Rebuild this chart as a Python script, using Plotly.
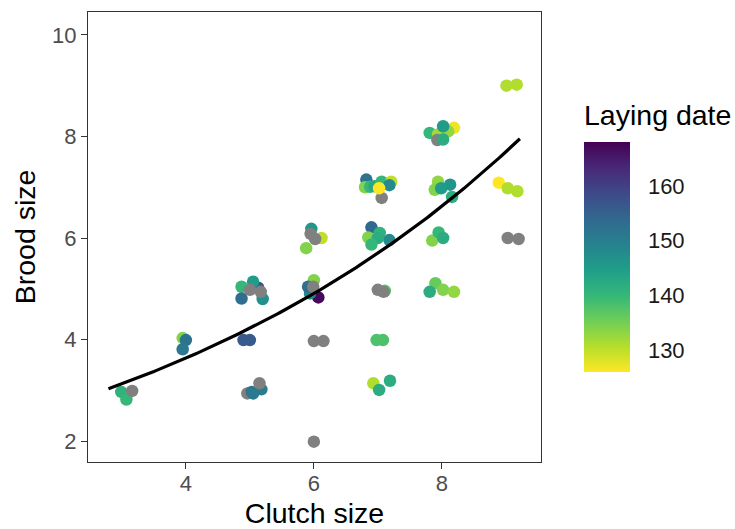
import plotly.graph_objects as go
from plotly.colors import sample_colorscale
import numpy as np

# Jittered positions (clutch size, brood size) and laying date (None = NA)
clutch = [2.99, 3.07, 3.16,
          3.95, 4.00, 3.95,
          4.87, 5.13, 5.05, 5.20, 4.87, 5.00, 5.17,
          4.90, 5.00,
          4.96, 5.18, 5.03, 5.05, 5.15,
          5.96, 6.12, 5.95, 6.02, 5.88,
          6.00, 6.07, 5.94, 5.91, 5.99,
          6.00, 6.15,
          6.00,
          6.82, 6.80, 6.88, 6.95, 7.06, 7.21, 7.18, 7.06, 7.02,
          6.90, 6.85, 7.03, 7.18, 7.00, 6.90,
          7.00, 7.11, 7.09,
          6.98, 7.08,
          6.93, 7.19, 7.02,
          7.81, 8.19, 7.94, 8.10, 7.93, 8.02, 8.02,
          7.94, 7.89, 8.13, 8.16, 7.99,
          7.85, 7.95, 8.02,
          7.90, 7.81, 8.02, 8.19,
          9.01, 9.17,
          8.89, 9.03, 9.18,
          9.03, 9.20]
brood = [2.97, 2.82, 2.99,
         4.03, 3.99, 3.81,
         5.04, 5.02, 5.14, 4.80, 4.81, 4.98, 4.94,
         3.99, 3.99,
         2.94, 3.02, 2.97, 2.94, 3.14,
         6.18, 6.00, 6.08, 5.98, 5.80,
         5.17, 4.83, 4.91, 5.04, 5.04,
         3.97, 3.97,
         1.99,
         7.15, 7.00, 7.01, 7.02, 7.11, 7.11, 7.04, 6.79, 6.98,
         6.21, 6.01, 6.10, 5.96, 6.00, 5.87,
         4.98, 4.96, 4.94,
         3.99, 3.99,
         3.14, 3.19, 3.01,
         8.07, 8.17, 8.04, 8.10, 7.93, 8.20, 7.94,
         7.11, 6.95, 7.05, 6.81, 6.98,
         5.95, 6.11, 6.00,
         5.11, 4.94, 4.98, 4.94,
         9.00, 9.02,
         7.09, 6.98, 6.92,
         6.00, 5.98]
laying_date = [141, 140, None,
               134, 152, 151,
               140, 157, 145, 147, 153, None, None,
               156, 156,
               None, 150, 152, 151, None,
               146, 130, None, None, 134,
               134, 167, 148, 153, None,
               None, None,
               None,
               152, 134, 140, 143, 140, 130, 148, None, 126,
               154, 134, 141, 148, 142, 140,
               None, 137, None,
               138, 138,
               131, 142, 142,
               140, 127, 132, 133, None, 145, 142,
               133, 134, 146, 142, 145,
               134, 140, 142,
               136, 142, 134, 133,
               131, 131,
               126, 131, 131,
               None, None]

# Fitted exponential (Poisson GLM, log link) curve parameters
fit_intercept = np.log(1.995)
fit_slope = 0.150
fit_xmin, fit_xmax = 2.79, 9.22

date_min, date_max = 126, 168
date_ticks = [130, 140, 150, 160]
na_colour = "#808080"
scale = "Viridis_r"

colours = []
for d in laying_date:
    if d is None:
        colours.append(na_colour)
    else:
        colours.append(sample_colorscale(scale, [(d - date_min) / (date_max - date_min)])[0])

FONT = "Liberation Sans, Arial"
W, H = 735, 529
L, R, T, B = 88, 541, 12, 462

fig = go.Figure()
fig.add_trace(go.Scatter(
    x=clutch, y=brood, mode="markers",
    marker=dict(color=colours, size=12.5, line=dict(width=0)),
    showlegend=False, hoverinfo="skip"))

xs = np.linspace(fit_xmin, fit_xmax, 200)
fig.add_trace(go.Scatter(
    x=xs, y=np.exp(fit_intercept + fit_slope * xs), mode="lines",
    line=dict(color="black", width=3.2), showlegend=False, hoverinfo="skip"))

# colour bar geometry (pixels)
bar_top, bar_bot, bar_left, bar_w = 143, 373, 584, 46
cb_offset = 24  # empirical correction of container positioning
fig.add_trace(go.Scatter(
    x=[None], y=[None], mode="markers",
    marker=dict(color=[date_min], colorscale=scale, cmin=date_min, cmax=date_max,
                showscale=True,
                colorbar=dict(
                    thickness=bar_w, len=bar_bot - bar_top,
                    lenmode="pixels", xpad=0, ypad=0,
                    xref="container", yref="container",
                    x=bar_left / W, xanchor="left",
                    y=(H - bar_top - cb_offset) / H, yanchor="top",
                    outlinewidth=0,
                    tickvals=date_ticks, ticks="outside", ticklen=14,
                    tickcolor="rgba(0,0,0,0)",
                    tickfont=dict(size=22, color="#1a1a1a", family=FONT),
                )),
    showlegend=False, hoverinfo="skip"))

# legend title
fig.add_annotation(text="Laying date", xref="paper", yref="paper",
                   x=(bar_left - 2 - L) / (R - L), xanchor="left",
                   y=(B - 115) / (B - T), yanchor="middle", showarrow=False,
                   font=dict(size=28.5, color="black", family=FONT))

# white ticks on both edges of the colour bar (as ggplot draws them)
for v in date_ticks:
    ypx = bar_bot - (v - date_min) / (date_max - date_min) * (bar_bot - bar_top)
    yp = (B - ypx) / (B - T)
    for x0 in (bar_left, bar_left + bar_w - 9):
        fig.add_shape(type="line", xref="paper", yref="paper",
                      x0=(x0 - L) / (R - L), x1=(x0 + 9 - L) / (R - L),
                      y0=yp, y1=yp, line=dict(color="white", width=1))

axis_common = dict(showgrid=False, zeroline=False, showline=True, mirror=True,
                   linecolor="#333333", linewidth=1.2, ticks="outside", ticklen=6,
                   tickcolor="#333333", tickwidth=1.2, automargin=False,
                   tickfont=dict(size=22, color="#4d4d4d", family=FONT))

fig.update_layout(
    width=W, height=H,
    margin=dict(l=L, r=W - R, t=T, b=H - B),
    plot_bgcolor="white", paper_bgcolor="white",
    font=dict(family=FONT),
    xaxis=dict(range=[2.47, 9.55], tickvals=[4, 6, 8], ticklabelstandoff=-5,
               title=dict(text="Clutch size", standoff=9,
                          font=dict(size=28.5, color="black")),
               **axis_common),
    yaxis=dict(range=[1.59, 10.45], tickvals=[2, 4, 6, 8, 10],
               title=dict(text="Brood size", standoff=8,
                          font=dict(size=28.5, color="black")),
               **axis_common),
)

fig.write_html("out.html")
